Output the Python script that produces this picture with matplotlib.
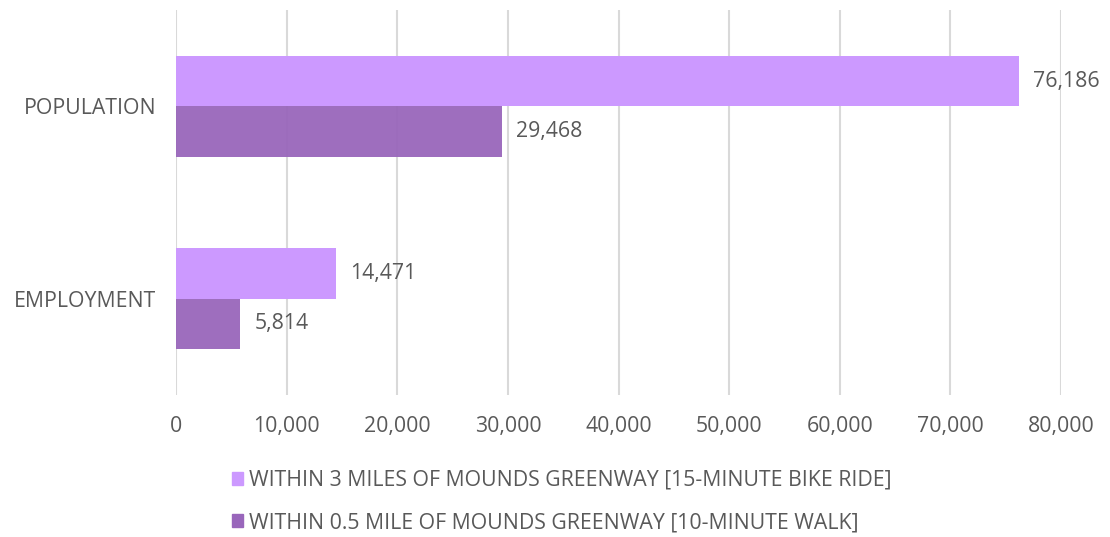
import numpy as np
import matplotlib.pyplot as plt
from matplotlib.patches import Patch

categories = ['EMPLOYMENT', 'POPULATION']
bike = [14471, 76186]
walk = [5814, 29468]
series_names = ['WITHIN 3 MILES OF MOUNDS GREENWAY [15-MINUTE BIKE RIDE]',
                'WITHIN 0.5 MILE OF MOUNDS GREENWAY [10-MINUTE WALK]']
xticks = np.arange(0, 80001, 10000)

c_bike = '#cc99ff'
c_walk = '#9966bb'
txt = '#595959'
fs = 15.3

plt.rcParams['font.family'] = ['Open Sans', 'DejaVu Sans']

fig = plt.figure(figsize=(11.1, 5.37), dpi=100)
ax = fig.add_axes([0.1586, 0.2644, 0.7973, 0.717])

y = np.arange(len(categories))
h = 0.262
ax.barh(y + h / 2, bike, height=h, color=c_bike, zorder=2)
ax.barh(y - h / 2, walk, height=h, color=c_walk, alpha=0.95, zorder=2)

for yi, v in zip(y + h / 2, bike):
    ax.text(v + 1300, yi, f'{v:,}', va='center', ha='left', fontsize=fs, color=txt)
for yi, v in zip(y - h / 2, walk):
    ax.text(v + 1300, yi, f'{v:,}', va='center', ha='left', fontsize=fs, color=txt)

ax.set_xlim(0, 80000)
ax.set_ylim(-0.5, 1.5)
ax.set_xticks(xticks)
ax.set_xticklabels([f'{t:,}' for t in xticks], fontsize=fs, color=txt)
ax.set_yticks(y)
ax.set_yticklabels(categories, fontsize=fs, color=txt)
ax.tick_params(axis='both', length=0)
ax.tick_params(axis='x', pad=15)
ax.tick_params(axis='y', pad=14)
ax.grid(axis='x', color='#d9d9d9', linewidth=1.5, zorder=0)
ax.set_axisbelow(True)
for s in ax.spines.values():
    s.set_visible(False)

handles = [Patch(color=c_bike), Patch(color=c_walk)]
fig.legend(handles, series_names, loc='upper left', bbox_to_anchor=(0.2014, 0.141),
           frameon=False, fontsize=fs, labelcolor=txt, handlelength=0.5,
           handleheight=0.55, handletextpad=0.3, labelspacing=1.0, borderaxespad=0)

fig.savefig('out.png', dpi=100)
